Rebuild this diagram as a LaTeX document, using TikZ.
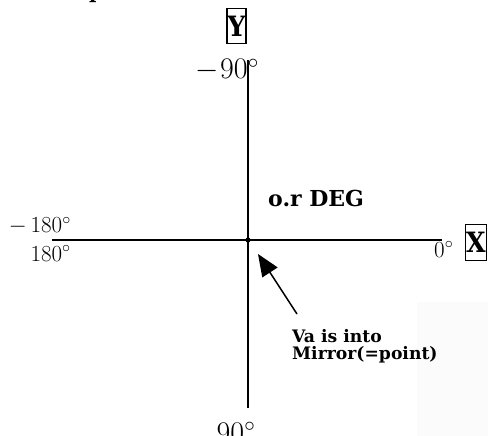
\documentclass[tikz,border=0pt]{standalone}
\usepackage{fix-cm}
\usepackage{fontspec}
\newfontfamily\labelfont{DejaVu Serif}
\usetikzlibrary{arrows.meta}
\tikzset{
  axisline/.style={line width=1.1pt},
  axisbox/.style={draw, line width=1.2pt, inner xsep=0.6pt, inner ysep=7.5pt},
  biglabel/.style={inner sep=0, font=\fontsize{30}{30}\selectfont},
  sidelabel/.style={inner sep=0, font=\fontsize{23}{23}\selectfont},
  boldlabel/.style={inner sep=0, font=\fontsize{17.2}{19.5}\selectfont\labelfont\bfseries},
  pointer/.style={line width=1.5pt, -{Triangle[length=22pt,width=18pt]}}
}
\newcommand{\axisletter}[1]{\scalebox{0.9}[1]{\fontsize{28}{28}\selectfont\labelfont\bfseries #1}}
\begin{document}
\begin{tikzpicture}[x=1pt,y=-1pt]
\useasboundingbox (0,0) rectangle (488,436);
\fill[black!1.5] (417,302) rectangle (488,436);
\begin{scope}
\clip (0,0) rectangle (488,436);
\node[anchor=base, inner sep=0, font=\fontsize{20}{20}\selectfont\labelfont\bfseries] (frag) at (96,-1.8) {p};
\end{scope}
% axes
\coordinate (ytop) at (248,60);
\coordinate (ybot) at (248,408);
\coordinate (xleft) at (52,240);
\coordinate (xright) at (442,240);
\draw[axisline] (ytop) -- (ybot);
\draw[axisline] (xleft) -- (xright);
\fill (248,240) circle (2.6pt) coordinate (origin);
% axis boxes
\node[axisbox] (Ybox) at (236.5,26) {\axisletter{Y}};
\node[axisbox] (Xbox) at (476,242.5) {\axisletter{X}};
% degree labels
\node[biglabel, anchor=base] (m90) at (227,79) {$-\mkern1mu 90^\circ$};
\node[biglabel, anchor=base] (p90) at (236,442) {$90^\circ$};
\node[sidelabel, anchor=base east] (m180) at (71,233) {$-\mkern3mu 180^\circ$};
\node[sidelabel, anchor=base east] (p180) at (71,261) {$180^\circ$};
\node[sidelabel, anchor=base west] (zero) at (434,257) {$0^\circ$};
% bold labels
\node[inner sep=0, anchor=base west, font=\fontsize{22}{22}\selectfont\labelfont\bfseries] (deg) at (268,206) {o.r DEG};
\node[boldlabel, anchor=base west] (va1) at (292,342) {Va is into};
\node[boldlabel, anchor=base west] (va2) at (292,359) {Mirror(=point)};
% arrow
\coordinate (tail) at (297,314);
\coordinate (tip) at (258,254);
\draw[pointer] (tail) -- (tip);
\end{tikzpicture}
\end{document}
